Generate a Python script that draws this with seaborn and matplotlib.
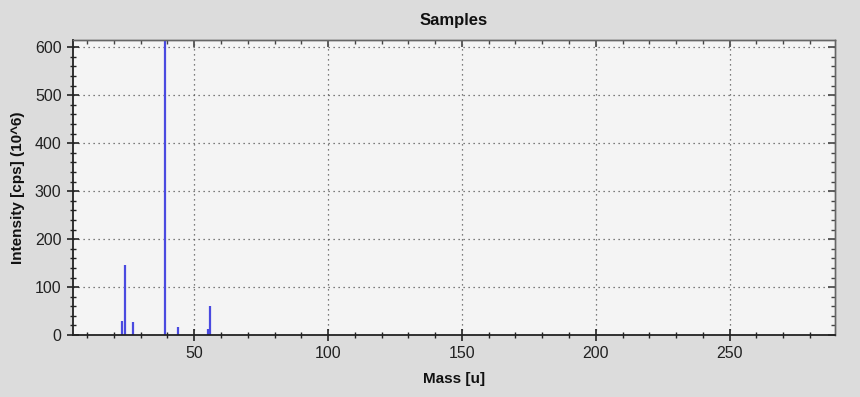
import matplotlib
matplotlib.use("Agg")
import matplotlib.pyplot as plt
import seaborn as sns
import pandas as pd
from matplotlib.ticker import MultipleLocator

mass = [23, 24, 27, 39, 44, 55, 56]
intensity = [29, 146, 27, 615, 17, 12, 61]
x_ticks = [50, 100, 150, 200, 250]
y_ticks = [0, 100, 200, 300, 400, 500, 600]

df = pd.DataFrame({"Mass": mass, "Intensity": intensity})

sns.set_theme(style="ticks")
plt.rcParams['font.family'] = ['Liberation Sans', 'DejaVu Sans']

fig = plt.figure(figsize=(8.6, 3.97), dpi=100, facecolor="#dcdcdc")
ax = fig.add_axes([0.0845, 0.156, 0.8865, 0.743])
ax.set_facecolor("#f4f4f4")

ax.vlines(df["Mass"], 0, df["Intensity"], color="#4a4ae0", linewidth=1.6)

ax.set_xlim(4.6, 289.4)
ax.set_ylim(0, 615)
ax.set_xticks(x_ticks)
ax.set_yticks(y_ticks)
ax.xaxis.set_minor_locator(MultipleLocator(10))
ax.yaxis.set_minor_locator(MultipleLocator(20))
ax.grid(True, which="major", linestyle=(0, (1, 3)), color="#555555", linewidth=0.9)

ax.tick_params(axis="both", which="major", direction="inout", length=8, width=1.2,
               labelsize=11.5, colors="#222222", pad=4)
ax.tick_params(axis="both", which="minor", direction="inout", length=5, width=1.0, color="#222222")
ax.tick_params(axis="x", which="both", top=False)
ax.tick_params(axis="y", which="both", right=False)

top = ax.secondary_xaxis("top")
top.set_xticks(x_ticks)
top.xaxis.set_minor_locator(MultipleLocator(10))
top.tick_params(which="major", direction="in", length=5, width=1.2, color="#444444", labeltop=False)
top.tick_params(which="minor", direction="in", length=3, width=1.0, color="#444444")
top.set_xticklabels([])
top.spines["top"].set_color("#666666")
top.spines["top"].set_linewidth(1.0)

right = ax.secondary_yaxis("right")
right.set_yticks(y_ticks)
right.yaxis.set_minor_locator(MultipleLocator(20))
right.tick_params(which="major", direction="in", length=5, width=1.2, color="#444444", labelright=False)
right.tick_params(which="minor", direction="in", length=3, width=1.0, color="#444444")
right.set_yticklabels([])
right.spines["right"].set_color("#666666")
right.spines["right"].set_linewidth(1.0)

for s in ["left", "bottom"]:
    ax.spines[s].set_color("#222222")
    ax.spines[s].set_linewidth(1.3)
for s in ["top", "right"]:
    ax.spines[s].set_color("#666666")
    ax.spines[s].set_linewidth(1.0)

ax.set_title("Samples", fontsize=12, fontweight="bold", pad=11, color="#111111")
ax.set_xlabel("Mass [u]", fontsize=11, fontweight="bold", labelpad=8, color="#111111")
ax.set_ylabel("Intensity [cps] (10^6)", fontsize=11, fontweight="bold", labelpad=7, color="#111111")

fig.savefig("out.png", dpi=100, facecolor=fig.get_facecolor())
